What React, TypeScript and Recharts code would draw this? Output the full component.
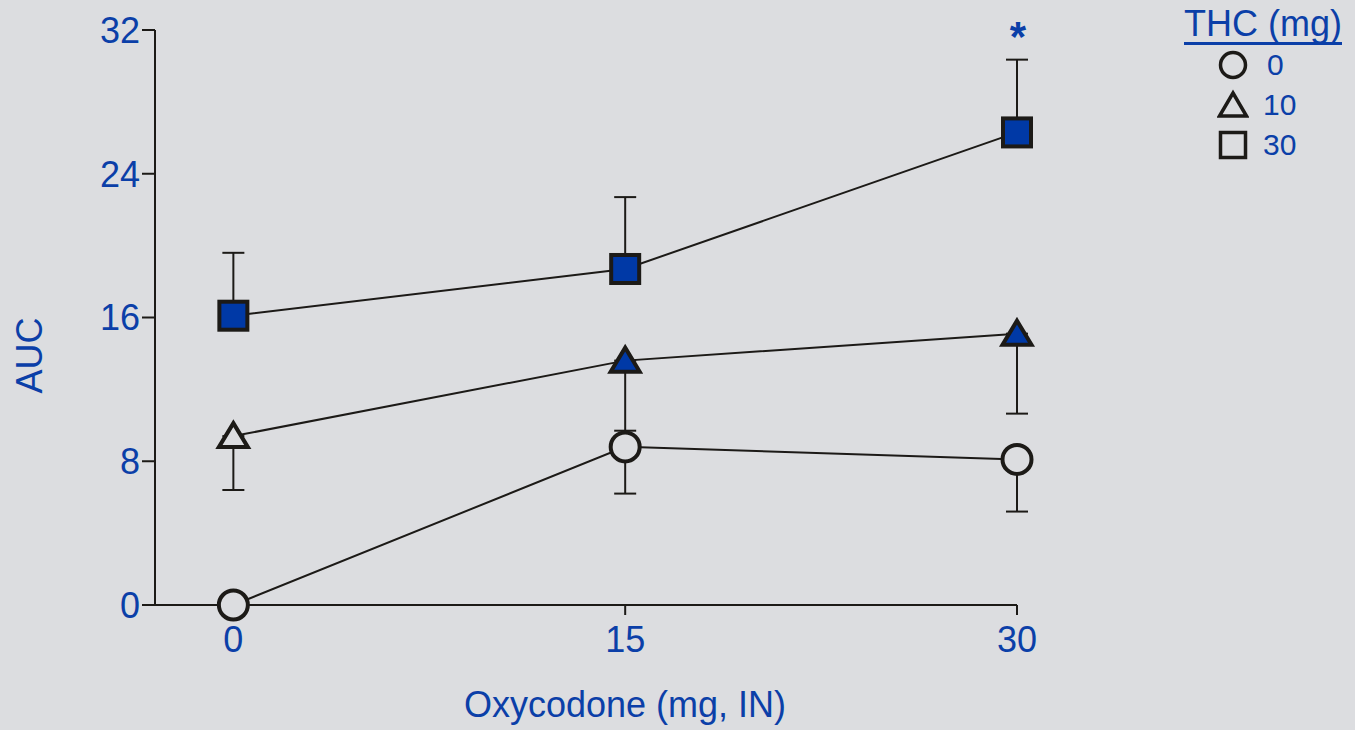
import { ComposedChart, Line, Scatter, XAxis, YAxis, ErrorBar, ReferenceDot, Label } from 'recharts';

// oxycodone doses (mg, IN)
const doses = [0, 15, 30];

// AUC means per THC dose
const thc0 = [0, 8.8, 8.1];
const thc10 = [9.4, 13.6, 15.1];
const thc30 = [16.1, 18.7, 26.3];

// one-sided SEM: [lower, upper]
const thc0Err: [number, number][] = [[0, 0], [2.6, 0], [2.9, 0]];
const thc10Err: [number, number][] = [[3.0, 0], [3.9, 0], [4.45, 0]];
const thc30Err: [number, number][] = [[0, 3.5], [0, 4.0], [0, 4.05]];

// filled = significant vs placebo
const thc0Sig = [false, false, false];
const thc10Sig = [false, true, true];
const thc30Sig = [true, true, true];

const yTicks = [0, 8, 16, 24, 32];
const xTicks = [0, 15, 30];
const legendItems = [
  { shape: 'circle', label: '0' },
  { shape: 'triangle', label: '10' },
  { shape: 'square', label: '30' },
];

const BG = '#dcdde0';
const BLUE = '#0b3fa8';
const FILL = '#0039a6';
const INK = '#1c1a17';
const FONT = '"Liberation Sans", Arial, sans-serif';

const chartData = doses.map((d, i) => ({
  dose: d,
  thc0: thc0[i],
  thc10: thc10[i],
  thc30: thc30[i],
  thc0Err: thc0Err[i],
  thc10Err: thc10Err[i],
  thc30Err: thc30Err[i],
}));

const makeMarker = (shape: string, sig: boolean[]) => (props: any) => {
  const { cx, cy, index } = props;
  if (cx == null || cy == null) return <g />;
  const fill = sig[index] ? FILL : BG;
  if (shape === 'circle') {
    return <circle cx={cx} cy={cy} r={14.5} fill={fill} stroke={INK} strokeWidth={4} />;
  }
  if (shape === 'square') {
    return <rect x={cx - 14} y={cy - 14} width={28} height={28} fill={fill} stroke={INK} strokeWidth={4} />;
  }
  return (
    <path
      d={`M${cx},${cy - 13} L${cx + 14.5},${cy + 11} L${cx - 14.5},${cy + 11} Z`}
      fill={fill}
      stroke={INK}
      strokeWidth={4}
      strokeLinejoin="miter"
    />
  );
};

const LegendSymbol = ({ shape }: { shape: string }) => {
  if (shape === 'circle') return <circle cx={16} cy={16} r={12.5} fill="none" stroke={INK} strokeWidth={3.5} />;
  if (shape === 'square') return <rect x={3.5} y={3.5} width={25} height={25} fill="none" stroke={INK} strokeWidth={3.5} />;
  return <path d="M16,4 L29.5,27 L2.5,27 Z" fill="none" stroke={INK} strokeWidth={3.5} />;
};

const Star = (props: any) => {
  const { viewBox } = props;
  const x = viewBox.x + viewBox.width / 2;
  const y = viewBox.y + viewBox.height / 2;
  return (
    <text x={x + 1} y={y + 21} textAnchor="middle" fill={BLUE} fontSize={42} fontWeight="bold" fontFamily={FONT}>
      *
    </text>
  );
};

const App = () => {
  return (
    <div style={{ position: 'absolute', left: 0, top: 0, width: 1355, height: 730, background: BG, fontFamily: FONT }}>
      <ComposedChart width={1355} height={730} data={chartData} margin={{ top: 30, right: 338, bottom: 65, left: 95 }}>
        <XAxis
          dataKey="dose"
          type="number"
          domain={[-3, 30]}
          ticks={xTicks}
          height={60}
          tickSize={10}
          tickMargin={11}
          axisLine={{ stroke: INK, strokeWidth: 2 }}
          tickLine={{ stroke: INK, strokeWidth: 2 }}
          tick={{ fill: BLUE, fontSize: 36, fontFamily: FONT }}
        >
          <Label value="Oxycodone (mg, IN)" position="bottom" offset={0} dx={39} dy={26} fill={BLUE} fontSize={36} fontFamily={FONT} />
        </XAxis>
        <YAxis
          type="number"
          domain={[0, 32]}
          ticks={yTicks}
          width={60}
          tickSize={13}
          tickMargin={2}
          axisLine={{ stroke: INK, strokeWidth: 2 }}
          tickLine={{ stroke: INK, strokeWidth: 2 }}
          tick={{ fill: BLUE, fontSize: 36, fontFamily: FONT }}
        >
          <Label value="AUC" angle={-90} position="left" offset={0} dx={-66} fill={BLUE} fontSize={36} fontFamily={FONT} />
        </YAxis>
        <Line dataKey="thc0" stroke={INK} strokeWidth={2} dot={false} activeDot={false} isAnimationActive={false}>
          <ErrorBar dataKey="thc0Err" width={11} stroke={INK} strokeWidth={2} direction="y" />
        </Line>
        <Line dataKey="thc10" stroke={INK} strokeWidth={2} dot={false} activeDot={false} isAnimationActive={false}>
          <ErrorBar dataKey="thc10Err" width={11} stroke={INK} strokeWidth={2} direction="y" />
        </Line>
        <Line dataKey="thc30" stroke={INK} strokeWidth={2} dot={false} activeDot={false} isAnimationActive={false}>
          <ErrorBar dataKey="thc30Err" width={11} stroke={INK} strokeWidth={2} direction="y" />
        </Line>
        <Scatter dataKey="thc0" shape={makeMarker('circle', thc0Sig)} isAnimationActive={false} />
        <Scatter dataKey="thc10" shape={makeMarker('triangle', thc10Sig)} isAnimationActive={false} />
        <Scatter dataKey="thc30" shape={makeMarker('square', thc30Sig)} isAnimationActive={false} />
        <ReferenceDot x={30} y={32} r={0} fill="none" stroke="none" label={<Star />} />
      </ComposedChart>
      <div style={{ position: 'absolute', left: 1184, top: 6, color: BLUE, fontSize: 36, lineHeight: '38px' }}>
        <div style={{ borderBottom: `3px solid ${BLUE}`, lineHeight: '36px' }}>THC (mg)</div>
        {legendItems.map((it) => (
          <div key={it.label} style={{ display: 'flex', alignItems: 'center', height: 40, marginLeft: 33 }}>
            <svg width={32} height={32}>
              <LegendSymbol shape={it.shape} />
            </svg>
            <span style={{ marginLeft: it.label.length === 1 ? 18 : 14, fontSize: 30 }}>{it.label}</span>
          </div>
        ))}
      </div>
    </div>
  );
};

export default App;
